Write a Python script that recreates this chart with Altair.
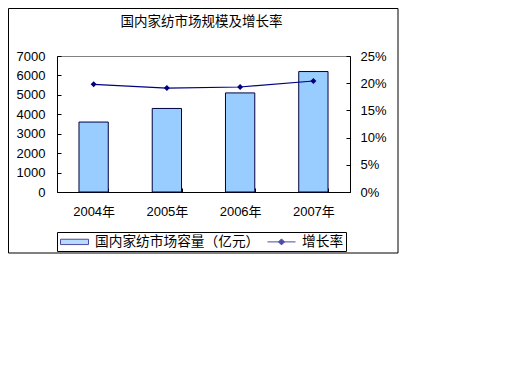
import altair as alt
import pandas as pd

years = ["2004年", "2005年", "2006年", "2007年"]
capacity = [3600, 4300, 5100, 6200]          # 国内家纺市场容量（亿元）
growth = [0.198, 0.191, 0.193, 0.204]         # 增长率
series_names = ["国内家纺市场容量（亿元）", "增长率"]
title_text = "国内家纺市场规模及增长率"

FONT = "Liberation Sans, Noto Sans CJK SC"
NAVY = "#000080"
BLUE = "#99CCFF"

df = pd.DataFrame({"year": years, "capacity": capacity, "growth": growth})
legend_df = pd.DataFrame({"series": series_names})

x_enc = alt.X(
    "year:N",
    sort=years,
    scale=alt.Scale(paddingInner=0.6, paddingOuter=0.3),
    axis=alt.Axis(
        title=None, labelAngle=0, tickBand="extent",
        tickSize=alt.ExprRef(expr="-4"), labelPadding=17,
        labelFontSize=13,
    ),
)

frame = alt.Chart(alt.Data(values=[{}])).mark_rect(
    fill="white", fillOpacity=0, stroke="black", strokeWidth=1
).encode(
    x=alt.value(-48.5), x2=alt.value(341), y=alt.value(-47.5), y2=alt.value(197)
)

title_mark = alt.Chart(alt.Data(values=[{}])).mark_text(
    text=title_text, font=FONT, fontSize=13.5, color="black",
    align="center", baseline="middle",
).encode(x=alt.value(144.5), y=alt.value(-34))

bars = alt.Chart(df).mark_bar(
    color=BLUE, stroke="#000040", strokeWidth=1
).encode(
    x=x_enc,
    y=alt.Y(
        "capacity:Q",
        scale=alt.Scale(domain=[0, 7000], nice=False),
        axis=alt.Axis(
            title=None, orient="left", values=list(range(0, 7001, 1000)),
            tickSize=alt.ExprRef(expr="-4"), labelPadding=16, format="d",
        ),
    ),
)

line = alt.Chart(df).mark_line(
    color=NAVY, strokeWidth=1.2,
    point=alt.OverlayMarkDef(shape="diamond", filled=True, size=36, color=NAVY),
).encode(
    x=x_enc,
    y=alt.Y(
        "growth:Q",
        scale=alt.Scale(domain=[0, 0.25], nice=False),
        axis=alt.Axis(
            title=None, orient="right", values=[0, 0.05, 0.10, 0.15, 0.20, 0.25],
            format=".0%", tickSize=alt.ExprRef(expr="-4"), labelPadding=14,
        ),
    ),
)

bar_path = "M-2,-0.38H2V0.38H-2Z"
line_path = "M-2,0H2M0,-0.43L0.43,0L0,0.43L-0.43,0Z"

legend_layer = alt.Chart(legend_df).transform_filter("false").mark_point(
    filled=True
).encode(
    color=alt.Color(
        "series:N",
        scale=alt.Scale(domain=series_names, range=[BLUE, NAVY]),
        legend=alt.Legend(
            title=None, orient="none", legendX=0, legendY=176,
            direction="horizontal",
            symbolSize=196, symbolOffset=8, labelOffset=13,
            symbolStrokeColor=NAVY, symbolStrokeWidth=1,
            labelFontSize=13.7, labelFont=FONT, labelColor="black",
            labelLimit=400,
            columnPadding=5, padding=2,
            strokeColor="black", fillColor="white",
        ),
    ),
    shape=alt.Shape(
        "series:N",
        scale=alt.Scale(domain=series_names, range=[bar_path, line_path]),
    ),
)

chart = alt.layer(frame, title_mark, bars, line, legend_layer).resolve_scale(
    y="independent"
).properties(
    width=293,
    height=136,
    autosize=alt.AutoSizeParams(type="none"),
    padding={"left": 49, "top": 48, "right": 100, "bottom": 100},
    background="white",
).configure_view(
    stroke="#808080", strokeWidth=1
).configure_axis(
    domainColor="black", tickColor="black", labelColor="black",
    labelFont=FONT, labelFontSize=13, grid=False, domainWidth=1,
)

chart.save("out.html", embed_options={"renderer": "svg", "actions": False})
